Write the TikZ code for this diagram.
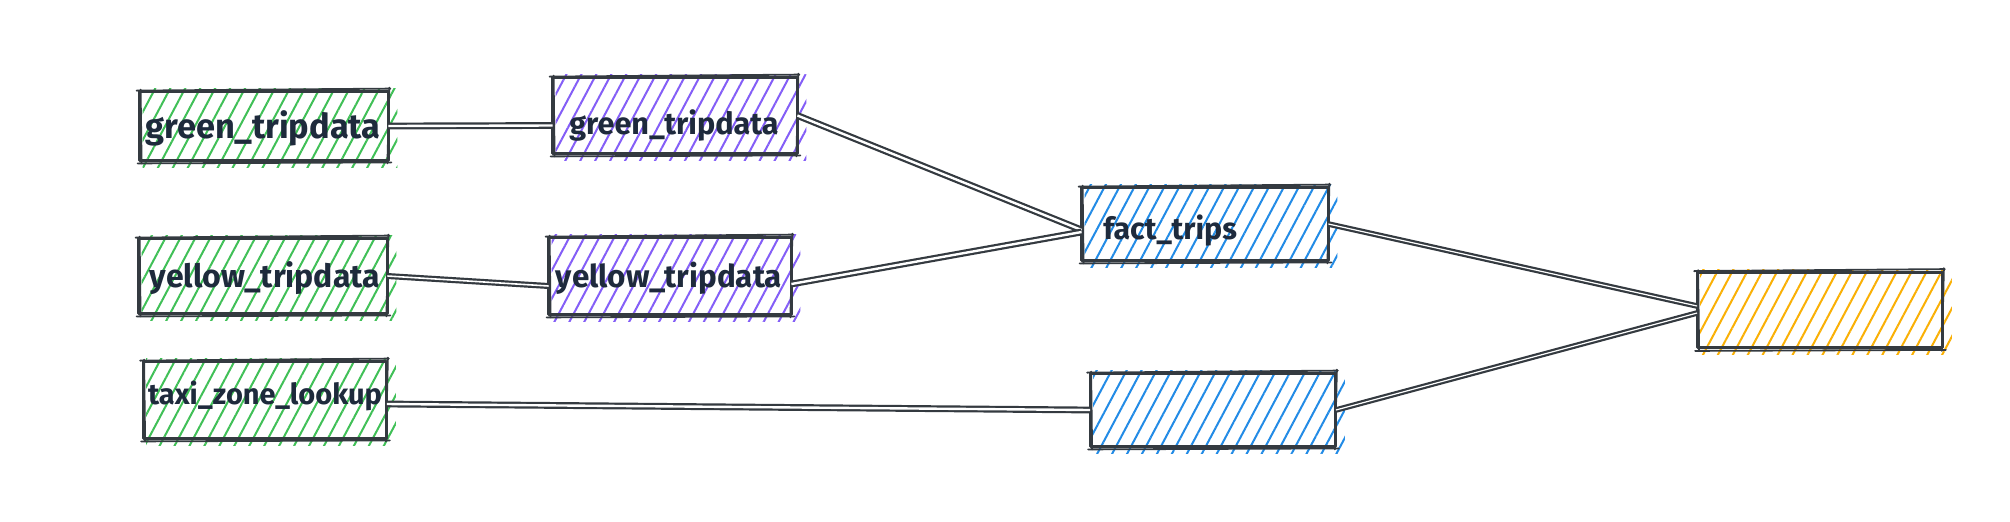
\documentclass[tikz,border=0pt]{standalone}
\usepackage{fontspec}
\setmainfont{Fira Sans}
\usetikzlibrary{patterns.meta}
\definecolor{ink}{HTML}{343A40}
\definecolor{txt}{HTML}{1E2A3C}
\definecolor{hgreen}{HTML}{40C057}
\definecolor{hviolet}{HTML}{845EF7}
\definecolor{hblue}{HTML}{228BE6}
\definecolor{hyellow}{HTML}{FAB005}
\tikzset{
  boxshape/.style={rectangle, inner sep=0pt, draw=none},
  outl/.style={draw=ink, line width=1.5pt, line join=round},
  outlb/.style={draw=ink, line width=0.9pt, line cap=round},
  lbl/.style={inner sep=0pt, text=txt, font=\bfseries\fontsize{#1}{#1}\selectfont},
  conn/.style={draw=ink, line width=1.1pt, double=white, double distance=#1},
  conn/.default=1.2pt
}
\newcommand\rbox[5]{%
  \node[boxshape, minimum width=#3*0.5pt, minimum height=#4*0.5pt] (#1) at (#2) {};
  \fill[pattern={Lines[angle=62,distance=6.6pt,line width=1.0pt]}, pattern color=#5]
    ([shift={(3,7)}]#1.south west) rectangle ([shift={(9,-3)}]#1.north east);
  \draw[outl] (#1.north west) rectangle (#1.south east);
  \draw[outlb] ([shift={(-3,-1)}]#1.north west) -- ([shift={(2,-3)}]#1.north east);
  \draw[outlb] ([shift={(1,-4)}]#1.north east) -- ([shift={(-1,3)}]#1.south east);
  \draw[outlb] ([shift={(3,2)}]#1.south east) -- ([shift={(-2,3)}]#1.south west);
  \draw[outlb] ([shift={(2,3)}]#1.south west) -- ([shift={(1,-2)}]#1.north west);
}
\begin{document}
\begin{tikzpicture}[x=0.5pt, y=-0.5pt]
  \fill[white] (0,0) rectangle (2010,521);
  \useasboundingbox (0,0) rectangle (2010,521);
  % boxes
  \rbox{gsrc}{264,126}{248}{68}{hgreen}
  \rbox{ysrc}{263,276}{248}{74}{hgreen}
  \rbox{taxi}{265,400}{243}{76}{hgreen}
  \rbox{gstg}{675,115.5}{244}{75}{hviolet}
  \rbox{ystg}{670,276}{242}{76}{hviolet}
  \rbox{fact}{1205,224}{246}{72}{hblue}
  \rbox{dim}{1213,410}{245}{72}{hblue}
  \rbox{final}{1820,310}{245}{75}{hyellow}
  % labels
  \node[lbl=17.2] (gsrct) at (263,128) {green\_tripdata};
  \node[lbl=16] (ysrct) at (265,278) {yellow\_tripdata};
  \node[lbl=14.5] (taxit) at (265,396) {taxi\_zone\_lookup};
  \node[lbl=15.3] (gstgt) at (674,125) {green\_tripdata};
  \node[lbl=15.7] (ystgt) at (669,278) {yellow\_tripdata};
  \node[lbl=15.2, anchor=west] (factt) at (1103,231) {fact\_trips};
  % connectors
  \draw[conn] (gsrc.east) -- ([shift={(0,10)}]gstg.west);
  \draw[conn=0.8pt] (ysrc.east) -- ([shift={(0,10)}]ystg.west);
  \draw[conn] ([shift={(0,4)}]taxi.east) -- (dim.west);
  \draw[conn] (gstg.east) -- ([shift={(0,6)}]fact.west);
  \draw[conn] ([shift={(0,8)}]ystg.east) -- ([shift={(0,8)}]fact.west);
  \draw[conn=0.6pt] (fact.east) -- ([shift={(0,-4)}]final.west);
  \draw[conn=0.6pt] (dim.east) -- ([shift={(0,3)}]final.west);
\end{tikzpicture}
\end{document}
